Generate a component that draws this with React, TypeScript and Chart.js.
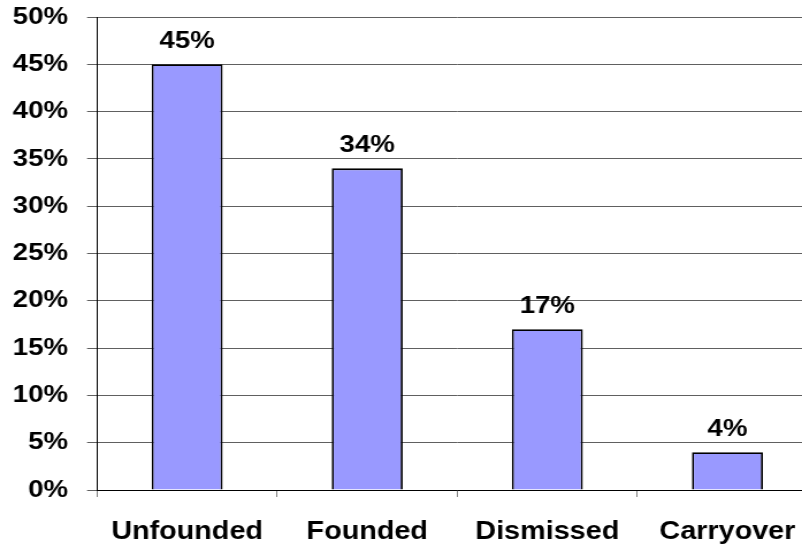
import React, { useEffect, useRef } from 'react';
import { Chart, registerables } from 'chart.js';

Chart.register(...registerables);

const categories: string[] = ['Unfounded', 'Founded', 'Dismissed', 'Carryover'];
const values: number[] = [45, 34, 17, 4];
const yMin = 0;
const yMax = 50;
const yStep = 5;

const S = 1.15; // horizontal stretch of the original rendering
const INTERNAL_W = 730;
const INTERNAL_H = 547;
const FONT = '"Liberation Sans", Arial, sans-serif';

const labelPlugin = {
  id: 'valueLabels',
  afterDatasetsDraw(chart: any) {
    const ctx = chart.ctx;
    const meta = chart.getDatasetMeta(0);
    ctx.save();
    ctx.font = `bold 24px ${FONT}`;
    ctx.fillStyle = '#000';
    ctx.textAlign = 'center';
    ctx.textBaseline = 'alphabetic';
    meta.data.forEach((bar: any, i: number) => {
      ctx.fillText(values[i] + '%', bar.x, bar.y - 16);
    });
    ctx.restore();
  },
};

export default function App() {
  const ref = useRef<HTMLCanvasElement>(null);
  useEffect(() => {
    const canvas = ref.current!;
    const chart = new Chart(canvas, {
      type: 'bar',
      data: {
        labels: categories,
        datasets: [
          {
            data: values,
            backgroundColor: '#9999FF',
            borderColor: '#000000',
            borderWidth: 1.8,
            barPercentage: 0.394,
            categoryPercentage: 1,
          },
        ],
      },
      options: {
        responsive: false,
        animation: false,
        devicePixelRatio: 1,
        layout: { padding: { left: 0, top: 17, right: INTERNAL_W - 817 / S, bottom: 0 } },
        plugins: { legend: { display: false }, tooltip: { enabled: false } },
        scales: {
          x: {
            grid: { drawOnChartArea: false, drawTicks: true, tickLength: 7, color: '#808080', offset: true },
            border: { color: '#000', width: 1 },
            ticks: {
              font: { family: FONT, size: 25, weight: 'bold' },
              color: '#000',
              padding: 20,
              maxRotation: 0,
              autoSkip: false,
            },
            afterFit: (s: any) => {
              s.height = 57;
              s.paddingLeft = 0;
              s.paddingRight = 0;
            },
          },
          y: {
            min: yMin,
            max: yMax,
            ticks: {
              stepSize: yStep,
              callback: (v: any) => v + '%',
              font: { family: FONT, size: 24, weight: 'bold' },
              color: '#000',
              padding: 16.5,
            },
            grid: { color: '#606060', tickLength: 10 / S },
            border: { color: '#000', width: 1 },
            afterFit: (s: any) => {
              s.width = 97 / S;
              s.paddingTop = 0;
              s.paddingBottom = 0;
            },
          },
        },
      },
      plugins: [labelPlugin],
    } as any);
    return () => chart.destroy();
  }, []);
  return (
    <div
      style={{
        position: 'fixed',
        left: 0,
        top: 0,
        width: 802,
        height: 547,
        overflow: 'hidden',
        background: '#fff',
      }}
    >
      <canvas
        ref={ref}
        width={INTERNAL_W}
        height={INTERNAL_H}
        style={{ width: `${INTERNAL_W * S}px`, height: `${INTERNAL_H}px`, display: 'block' }}
      />
    </div>
  );
}
